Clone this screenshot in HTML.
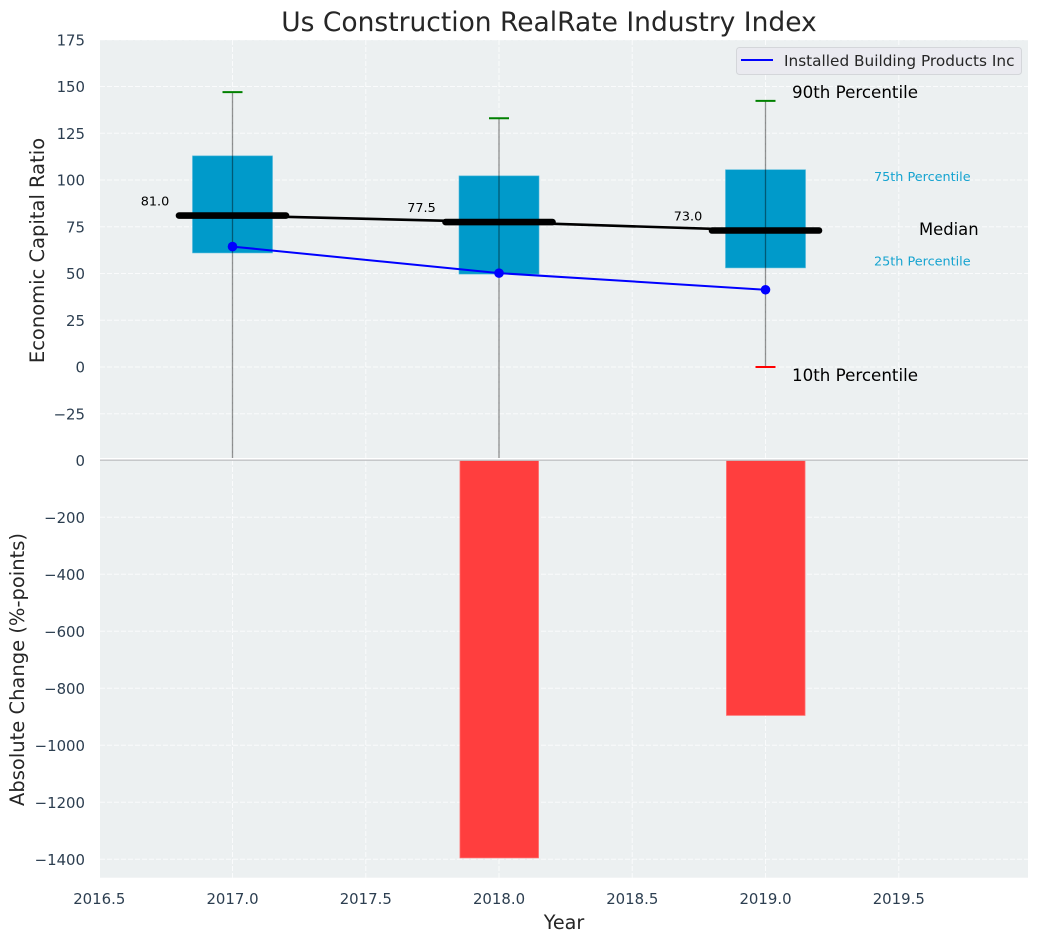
<!DOCTYPE html>
<html>
<head>
<meta charset="utf-8">
<style>
html,body{margin:0;padding:0;background:#fff;width:1039px;height:942px;overflow:hidden}
svg{display:block;font-family:"DejaVu Sans","Liberation Sans",sans-serif}
</style>
</head>
<body>
<svg id="chart" width="1039" height="942" viewBox="0 0 1039 942" xmlns="http://www.w3.org/2000/svg">
<defs><clipPath id="top-clip"><rect x="100" y="40" width="928" height="418"/></clipPath></defs>
</svg>
<script>
const years = [2017, 2018, 2019];
const p90 = [147, 133, 142.3];
const p75 = [112.9, 102.2, 105.5];
const medians = [81, 77.5, 73];
const p25 = [61, 49.7, 53];
const p10 = [-120, -120, 0];
const companyValues = [64.4, 50.2, 41.3];
const absoluteChange = [0, -1395, -895];
const xTicks = [2016.5, 2017, 2017.5, 2018, 2018.5, 2019, 2019.5];
const topTicks = [175, 150, 125, 100, 75, 50, 25, 0, -25];
const bottomTicks = [0, -200, -400, -600, -800, -1000, -1200, -1400];
const seriesName = 'Installed Building Products Inc';

const svg = document.getElementById('chart');
const NS = 'http://www.w3.org/2000/svg';
const L = 100, R = 1028;
const x = v => 232.5 + (v - 2017) * 266.5;
const yTop = v => 367 - v * 1.87;
const yBot = v => 460.3 - v * 0.285;
const fmt = v => (v < 0 ? '\u2212' + (-v) : '' + v);

function el(tag, attrs, parent, text) {
  const e = document.createElementNS(NS, tag);
  for (const k in attrs) e.setAttribute(k, attrs[k]);
  if (text !== undefined) e.textContent = text;
  (parent || svg).appendChild(e);
  return e;
}
let n;

n = el('rect', {x: L, y: 40, width: R - L, height: 418, fill: '#ecf0f1'});


n = el('rect', {x: L, y: 460, width: R - L, height: 417.7, fill: '#ecf0f1'});



const gridStyle = {stroke: '#fff', 'stroke-width': 1, 'stroke-dasharray': '5 2', fill: 'none', opacity: 0.75};
for (const t of xTicks) {
  n = el('line', {x1: x(t), x2: x(t), y1: 40, y2: 458, ...gridStyle});
  
  
  n = el('line', {x1: x(t), x2: x(t), y1: 460, y2: 877.7, ...gridStyle});
  
  
  n = el('text', {x: x(t), y: 904, 'text-anchor': 'middle', 'font-size': 14.9, fill: '#2c3e50'}, svg, t.toFixed(1));
  
  
}
for (const t of topTicks) {
  n = el('line', {x1: L, x2: R, y1: yTop(t), y2: yTop(t), ...gridStyle});
  
  
  n = el('text', {x: 85, y: yTop(t) + 5.5, 'text-anchor': 'end', 'font-size': 14.9, fill: '#2c3e50'}, svg, fmt(t));
  
  
}
for (const t of bottomTicks) {
  if (t !== 0) {
    n = el('line', {x1: L, x2: R, y1: yBot(t), y2: yBot(t), ...gridStyle});
    
    
  }
  n = el('text', {x: 85, y: yBot(t) + 5.5, 'text-anchor': 'end', 'font-size': 14.9, fill: '#2c3e50'}, svg, fmt(t));
  
  
}

const topGroup = el('g', {'clip-path': 'url(#top-clip)'});



years.forEach((yr, i) => {
  n = el('rect', {x: x(yr) - 40, width: 80, y: yTop(p75[i]), height: yTop(p25[i]) - yTop(p75[i]), fill: '#009aca', stroke: '#4db8da', 'stroke-width': 0.6}, topGroup);
  
  
});

n = el('polyline', {points: years.map((yr, i) => x(yr) + ',' + yTop(medians[i])).join(' '), fill: 'none', stroke: '#000', 'stroke-width': 2.6}, topGroup);



years.forEach((yr, i) => {
  n = el('line', {x1: x(yr) - 53.5, x2: x(yr) + 53.5, y1: yTop(medians[i]), y2: yTop(medians[i]), stroke: '#000', 'stroke-width': 6.6, 'stroke-linecap': 'round'}, topGroup);
  
  
  n = el('line', {x1: x(yr), x2: x(yr), y1: yTop(p90[i]), y2: yTop(p10[i]), stroke: '#000', 'stroke-opacity': 0.42, 'stroke-width': 1.3}, topGroup);
  
  
  n = el('line', {x1: x(yr) - 10, x2: x(yr) + 10, y1: yTop(p90[i]), y2: yTop(p90[i]), stroke: '#008000', 'stroke-width': 2}, topGroup);
  
  
  n = el('line', {x1: x(yr) - 10, x2: x(yr) + 10, y1: yTop(p10[i]), y2: yTop(p10[i]), stroke: '#ff0000', 'stroke-width': 2}, topGroup);
  
  
  n = el('text', {x: x(yr) - 77.5, y: yTop(medians[i]) - 10, 'text-anchor': 'middle', 'font-size': 12.8, fill: '#000'}, topGroup, medians[i].toFixed(1));
  
  
});

n = el('polyline', {points: years.map((yr, i) => x(yr) + ',' + yTop(companyValues[i])).join(' '), fill: 'none', stroke: '#0000ff', 'stroke-width': 2}, topGroup);


years.forEach((yr, i) => {
  n = el('circle', {cx: x(yr), cy: yTop(companyValues[i]), r: 4.8, fill: '#0000ff'}, topGroup);
  
  
});

years.forEach((yr, i) => {
  if (absoluteChange[i] === 0) return;
  n = el('rect', {x: x(yr) - 39, width: 78.5, y: yBot(0), height: yBot(absoluteChange[i]) - yBot(0), fill: '#ff3e3e', stroke: '#ff6a6a', 'stroke-width': 0.8});
  
  
});

n = el('line', {x1: L, x2: R, y1: 460.2, y2: 460.2, stroke: '#c0c2c4', 'stroke-width': 1.4});



const lastYear = years[years.length - 1];
const lastIdx = years.length - 1;
n = el('text', {x: x(lastYear) + 26.5, y: yTop(p90[lastIdx]) - 2.8, 'font-size': 16.7, fill: '#000'}, svg, '90th Percentile');


n = el('text', {x: x(lastYear) + 26.5, y: yTop(p10[lastIdx]) + 14, 'font-size': 16.7, fill: '#000'}, svg, '10th Percentile');


n = el('text', {x: x(lastYear) + 153.5, y: yTop(medians[lastIdx]) + 4.5, 'font-size': 16.4, fill: '#000'}, svg, 'Median');


n = el('text', {x: x(lastYear) + 108.5, y: yTop(p75[lastIdx]) + 11.5, 'font-size': 12.8, fill: '#15a3d0'}, svg, '75th Percentile');


n = el('text', {x: x(lastYear) + 108.5, y: yTop(p25[lastIdx]) - 2.5, 'font-size': 12.8, fill: '#15a3d0'}, svg, '25th Percentile');



const legend = el('g', {});


n = el('rect', {x: 736.5, y: 47.5, width: 285, height: 27, rx: 3, fill: '#eaeaf0', stroke: '#d4d6da', 'stroke-width': 1}, legend);


n = el('line', {x1: 741, x2: 773, y1: 60, y2: 60, stroke: '#0000ff', 'stroke-width': 2}, legend);


n = el('text', {x: 784, y: 66, 'font-size': 15.3, fill: '#262626'}, legend, seriesName);



n = el('text', {x: 549, y: 31, 'text-anchor': 'middle', 'font-size': 26.5, fill: '#262626'}, svg, 'Us Construction RealRate Industry Index');


n = el('text', {x: 564, y: 929, 'text-anchor': 'middle', 'font-size': 19.2, fill: '#262626'}, svg, 'Year');


n = el('text', {x: 0, y: 0, transform: 'translate(44,250.5) rotate(-90)', 'text-anchor': 'middle', 'font-size': 19.5, fill: '#262626'}, svg, 'Economic Capital Ratio');


n = el('text', {x: 0, y: 0, transform: 'translate(24,669.5) rotate(-90)', 'text-anchor': 'middle', 'font-size': 19.5, fill: '#262626'}, svg, 'Absolute Change (%-points)');


</script>
</body>
</html>
